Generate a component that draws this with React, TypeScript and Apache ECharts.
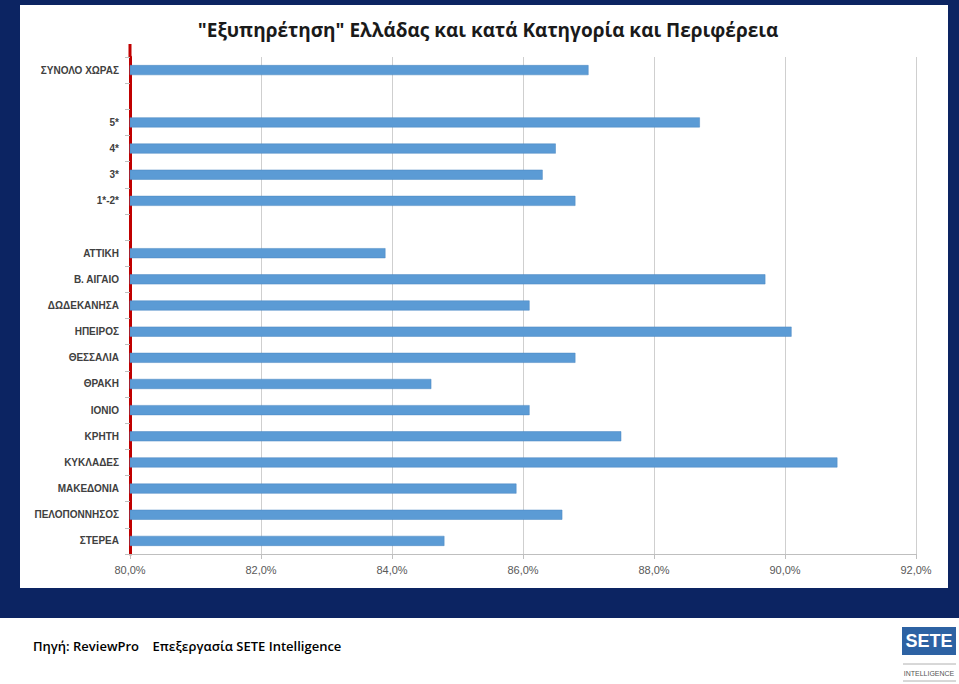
import React, { useEffect, useRef } from "react";
import * as echarts from "echarts";

const categories = [
  "ΣΥΝΟΛΟ ΧΩΡΑΣ", "", "5*", "4*", "3*", "1*-2*", " ",
  "ΑΤΤΙΚΗ", "Β. ΑΙΓΑΙΟ", "ΔΩΔΕΚΑΝΗΣΑ", "ΗΠΕΙΡΟΣ", "ΘΕΣΣΑΛΙΑ", "ΘΡΑΚΗ",
  "ΙΟΝΙΟ", "ΚΡΗΤΗ", "ΚΥΚΛΑΔΕΣ", "ΜΑΚΕΔΟΝΙΑ", "ΠΕΛΟΠΟΝΝΗΣΟΣ", "ΣΤΕΡΕΑ",
];
const values: (number | null)[] = [
  87.0, null, 88.7, 86.5, 86.3, 86.8, null,
  83.9, 89.7, 86.1, 90.1, 86.8, 84.6,
  86.1, 87.5, 90.8, 85.9, 86.6, 84.8,
];
const xTicks = [80, 82, 84, 86, 88, 90, 92];

const titleText = '"Εξυπηρέτηση" Ελλάδας και κατά Κατηγορία και Περιφέρεια';
const sourceText = "Πηγή: ReviewPro    Επεξεργασία SETE Intelligence";

export default function App() {
  const ref = useRef<HTMLDivElement>(null);
  useEffect(() => {
    if (!ref.current) return;
    const chart = echarts.init(ref.current, undefined, { renderer: "svg" });
    const gridLeft = 130, gridTop = 57, gridRight = 43, gridBottom = 130;
    chart.setOption({
      animation: false,
      backgroundColor: "#ffffff",
      title: {
        text: titleText,
        left: 483,
        textAlign: "center",
        top: 15,
        textStyle: { fontFamily: "Open Sans", fontWeight: "bold", fontSize: 19, color: "#1a1a1a" },
      },
      grid: { left: gridLeft, right: gridRight, top: gridTop, bottom: gridBottom, containLabel: false },
      xAxis: {
        type: "value",
        min: xTicks[0],
        max: xTicks[xTicks.length - 1],
        interval: 2,
        axisLine: { show: true, lineStyle: { color: "#bfbfbf", width: 1 } },
        axisTick: { show: true, length: 5, lineStyle: { color: "#bfbfbf" } },
        splitLine: { show: true, lineStyle: { color: "#cfcfcf", width: 1 } },
        axisLabel: {
          margin: 10,
          color: "#595959",
          fontSize: 11,
          fontFamily: "Liberation Sans Narrow, Liberation Sans, Arial",
          formatter: (v: number) => v.toFixed(1).replace(".", ",") + "%",
        },
      },
      yAxis: {
        type: "category",
        inverse: true,
        data: categories,
        axisLine: { show: true, onZero: false, lineStyle: { color: "#c00000", width: 3 } },
        axisTick: { show: true, length: 5, lineStyle: { color: "#bfbfbf" } },
        axisLabel: {
          margin: 11,
          color: "#404040",
          fontSize: 10,
          fontFamily: "Liberation Sans Narrow, Liberation Sans, Arial",
          fontWeight: "bold",
        },
        splitLine: { show: false },
      },
      series: [
        {
          type: "bar",
          data: values,
          barWidth: 10,
          clip: true,
          itemStyle: { color: "#5b9bd5", borderColor: "#4a86c0", borderWidth: 0.5 },
          z: 3,
        },
      ],
      graphic: [
        { type: "rect", z: -20, silent: true, shape: { x: 0, y: 0, width: 959, height: 618 }, style: { fill: "#0c2462" } },
        { type: "rect", z: -19, silent: true, shape: { x: 20, y: 5, width: 928, height: 583 }, style: { fill: "#ffffff" } },
        { type: "line", z: 10, silent: true, shape: { x1: gridLeft, y1: 44, x2: gridLeft, y2: gridTop }, style: { stroke: "#c00000", lineWidth: 3 } },
        { type: "text", left: 33, top: 639, style: { text: sourceText, fontSize: 13, fontWeight: 600, fontFamily: "Open Sans", fill: "#000000" } },
        { type: "rect", shape: { x: 902, y: 627, width: 54, height: 28 }, style: { fill: "#2d62a3" } },
        { type: "text", x: 929, y: 641, style: { text: "SETE", fontSize: 18, fontWeight: "bold", fontFamily: "Liberation Sans Narrow, Liberation Sans", fill: "#ffffff", align: "center", verticalAlign: "middle" } },
        { type: "line", shape: { x1: 903, y1: 664, x2: 956, y2: 664 }, style: { stroke: "#b0b0b0", lineWidth: 1 } },
        { type: "text", x: 929, y: 673, style: { text: "INTELLIGENCE", fontSize: 7, fontFamily: "Liberation Sans Narrow, Liberation Sans", fill: "#555555", align: "center", verticalAlign: "middle" } },
        { type: "line", shape: { x1: 903, y1: 681, x2: 956, y2: 681 }, style: { stroke: "#b0b0b0", lineWidth: 1 } },
      ],
    });
    return () => chart.dispose();
  }, []);
  return (
    <div
      ref={ref}
      style={{ position: "fixed", left: 0, top: 0, width: 959, height: 684 }}
    />
  );
}
